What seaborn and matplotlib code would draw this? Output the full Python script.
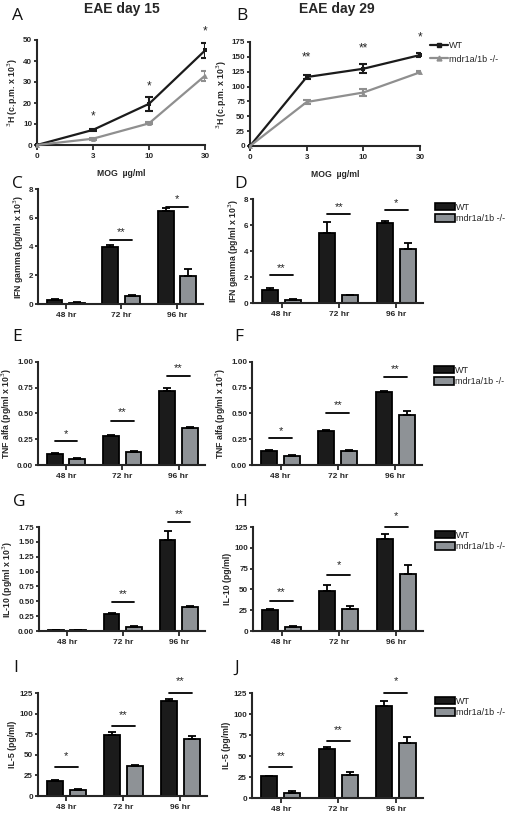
import pandas as pd
import seaborn as sns
import matplotlib.pyplot as plt
from matplotlib.lines import Line2D
from matplotlib.patches import Patch

# ---- data ----
doses = ["0", "3", "10", "30"]
times = ["48 hr", "72 hr", "96 hr"]
groups = ["WT", "mdr1a/1b -/-"]

# A: proliferation, EAE day 15
A_wt = [0, 7.2, 19.6, 45.0]
A_wt_err = [0, 0.5, 3.3, 3.8]
A_ko = [0, 3.0, 10.3, 33.0]
A_ko_err = [0, 0.4, 0.5, 2.3]
A_stars = ["", "*", "*", "*"]
A_star_y = [0, 13.5, 28, 54]

# B: proliferation, EAE day 29
B_wt = [0, 116, 130, 153]
B_wt_err = [0, 4, 8, 3]
B_ko = [0, 74, 90, 124]
B_ko_err = [0, 3, 6, 1.5]
B_stars = ["", "**", "**", "*"]
B_star_y = [0, 149, 164, 182]

# C/D: IFN gamma
C_wt = [0.30, 3.95, 6.50]
C_wt_err = [0.03, 0.15, 0.15]
C_ko = [0.10, 0.55, 1.95]
C_ko_err = [0.01, 0.05, 0.45]
C_sig = ["", "**", "*"]
C_line = [0, 4.45, 6.75]
C_star = [0, 5.0, 7.3]

D_wt = [1.03, 5.42, 6.14]
D_wt_err = [0.12, 0.82, 0.15]
D_ko = [0.26, 0.60, 4.15]
D_ko_err = [0.08, 0.03, 0.45]
D_sig = ["**", "**", "*"]
D_line = [2.14, 6.84, 7.15]
D_star = [2.7, 7.4, 7.7]

# E/F: TNF alfa
E_wt = [0.11, 0.28, 0.72]
E_wt_err = [0.005, 0.01, 0.03]
E_ko = [0.06, 0.13, 0.36]
E_ko_err = [0.005, 0.01, 0.01]
E_sig = ["*", "**", "**"]
E_line = [0.23, 0.43, 0.86]
E_star = [0.30, 0.51, 0.94]

F_wt = [0.14, 0.33, 0.71]
F_wt_err = [0.003, 0.01, 0.01]
F_ko = [0.09, 0.14, 0.49]
F_ko_err = [0.005, 0.005, 0.03]
F_sig = ["*", "**", "**"]
F_line = [0.26, 0.50, 0.85]
F_star = [0.33, 0.58, 0.93]

# G/H: IL-10
G_wt = [0.02, 0.29, 1.53]
G_wt_err = [0.005, 0.01, 0.15]
G_ko = [0.02, 0.07, 0.41]
G_ko_err = [0.005, 0.01, 0.01]
G_sig = ["", "**", "**"]
G_line = [0, 0.48, 1.83]
G_star = [0, 0.62, 1.97]

H_wt = [25.8, 48.0, 110.0]
H_wt_err = [0.5, 7.5, 6.0]
H_ko = [5.2, 27.0, 68.7]
H_ko_err = [1.0, 3.5, 10.5]
H_sig = ["**", "*", "*"]
H_line = [35.7, 67.5, 124.5]
H_star = [47, 79, 138]

# I/J: IL-5
I_wt = [18.5, 73.7, 115.0]
I_wt_err = [1.5, 3.5, 2.6]
I_ko = [7.5, 36.0, 69.5]
I_ko_err = [0.5, 2.0, 3.0]
I_sig = ["*", "**", "**"]
I_line = [34.8, 85.0, 125.5]
I_star = [48, 98, 139]

J_wt = [26.0, 58.0, 110.0]
J_wt_err = [0.3, 3.0, 6.0]
J_ko = [6.5, 27.0, 65.0]
J_ko_err = [1.5, 3.5, 8.0]
J_sig = ["**", "**", "*"]
J_line = [36.6, 67.5, 125.0]
J_star = [50, 81, 139]

# ---- style ----
sns.set_style("ticks")
plt.rcParams['font.family'] = ['Liberation Sans', 'DejaVu Sans']
plt.rcParams['axes.linewidth'] = 1.5
plt.rcParams['xtick.major.width'] = 1.3
plt.rcParams['ytick.major.width'] = 1.3
plt.rcParams['xtick.major.size'] = 3.5
plt.rcParams['ytick.major.size'] = 2.5
plt.rcParams['xtick.major.pad'] = 2
plt.rcParams['ytick.major.pad'] = 1

WT_COLOR = "#1b1b1b"
KO_COLOR = "#8d9297"
KO_LINE = "#8f8f8f"

W, H = 505, 813
fig = plt.figure(figsize=(W / 100, H / 100), dpi=100)


def px_axes(left, right, top, bottom):
    return fig.add_axes([left / W, 1 - bottom / H, (right - left) / W, (bottom - top) / H])


def style_axes(ax, ylim, yticks, fmt, ylabel):
    sns.despine(ax=ax)
    ax.set_ylim(*ylim)
    ax.set_yticks(yticks)
    ax.set_yticklabels([fmt.format(v) for v in yticks], fontsize=5.8, fontweight='bold')
    ax.set_ylabel(ylabel, fontsize=6.3, fontweight='bold', labelpad=2)


def line_panel(ax, wt, wt_err, ko, ko_err, stars, star_y, ylim, yticks, ylabel, legend=False):
    df = pd.DataFrame({
        'dose': doses * 2,
        'group': [groups[0]] * 4 + [groups[1]] * 4,
        'value': wt + ko,
        'err': wt_err + ko_err,
    })
    df['pos'] = df['dose'].map(doses.index)
    sns.lineplot(data=df, x='pos', y='value', hue='group', style='group',
                 markers={groups[0]: 's', groups[1]: '^'}, dashes=False,
                 palette={groups[0]: WT_COLOR, groups[1]: KO_LINE},
                 markersize=3.5, markeredgewidth=0, linewidth=1.6, legend=False,
                 ax=ax, clip_on=False, zorder=3)
    for g, c in zip(groups, [WT_COLOR, KO_LINE]):
        sub = df[(df['group'] == g) & (df['err'] > 0)]
        ax.errorbar(sub['pos'], sub['value'], yerr=sub['err'], fmt='none',
                    ecolor=c, elinewidth=1.5, capsize=2.8, capthick=1.5, zorder=3)
    for i, s in enumerate(stars):
        if s:
            ax.text(i, star_y[i], s, ha='center', va='center', fontsize=8.5, clip_on=False)
    ax.set_xlim(0, 3)
    ax.set_xticks(range(len(doses)))
    ax.set_xticklabels(doses, fontsize=5.8, fontweight='bold')
    ax.set_xlabel("MOG  µg/ml", fontsize=6.2, fontweight='bold', labelpad=7)
    style_axes(ax, ylim, yticks, "{:g}", ylabel)
    if legend:
        handles = [Line2D([], [], color=WT_COLOR, marker='s', markersize=3, lw=1.6),
                   Line2D([], [], color=KO_LINE, marker='^', markersize=3.5, lw=1.6)]
        ax.legend(handles, groups, loc='upper left', bbox_to_anchor=(1.04, 1.04),
                  frameon=False, fontsize=6.5, handlelength=1.9, handletextpad=0.2,
                  borderaxespad=0, labelspacing=0.45)


def bar_panel(ax, wt, wt_err, ko, ko_err, sig, sig_line, sig_star, ylim, yticks, fmt,
              ylabel, legend=False):
    df = pd.DataFrame({
        'time': times * 2,
        'group': [groups[0]] * 3 + [groups[1]] * 3,
        'value': wt + ko,
        'err': wt_err + ko_err,
    })
    sns.barplot(data=df, x='time', y='value', hue='group', order=times, hue_order=groups,
                palette={groups[0]: WT_COLOR, groups[1]: KO_COLOR}, errorbar=None,
                width=0.8, gap=0.3, edgecolor='black', linewidth=1.3, legend=False, ax=ax)
    centers = []
    for cont, g in zip(ax.containers, groups):
        xs = [b.get_x() + b.get_width() / 2 for b in cont]
        centers.append(xs)
        sub = df[df['group'] == g]
        ax.errorbar(xs, sub['value'], yerr=[[0] * len(xs), sub['err']], fmt='none',
                    ecolor='black', elinewidth=1.3, capsize=3, capthick=1.3, zorder=1)
    for i, s in enumerate(sig):
        if s:
            ax.plot([centers[0][i], centers[1][i]], [sig_line[i]] * 2, color='black',
                    lw=1.3, clip_on=False)
            ax.text((centers[0][i] + centers[1][i]) / 2, sig_star[i], s, ha='center',
                    va='center', fontsize=8, color='#222222', clip_on=False)
    ax.set_xlim(-0.5, 2.47)
    ax.set_xlabel("")
    ax.tick_params(axis='x', labelsize=6)
    for t in ax.get_xticklabels():
        t.set_fontweight('bold')
    style_axes(ax, ylim, yticks, fmt, ylabel)
    if legend:
        handles = [Patch(facecolor=WT_COLOR, edgecolor='black', lw=1.2),
                   Patch(facecolor=KO_COLOR, edgecolor='black', lw=1.2)]
        ax.legend(handles, groups, loc='upper left', bbox_to_anchor=(1.05, 1.0),
                  frameon=False, fontsize=6.5, handlelength=2.2, handleheight=0.9,
                  handletextpad=0.1, borderaxespad=0, labelspacing=0.3)


h3 = "$^3$"
axA = px_axes(37, 205, 40, 145)
line_panel(axA, A_wt, A_wt_err, A_ko, A_ko_err, A_stars, A_star_y, (0, 50),
           [0, 10, 20, 30, 40, 50], h3 + "H (c.p.m. x 10" + h3 + ")")
axB = px_axes(250, 420, 42, 146)
line_panel(axB, B_wt, B_wt_err, B_ko, B_ko_err, B_stars, B_star_y, (0, 175),
           [0, 25, 50, 75, 100, 125, 150, 175], h3 + "H (c.p.m. x 10" + h3 + ")", legend=True)

ifn = "IFN gamma (pg/ml x 10" + h3 + ")"
bar_panel(px_axes(38, 203, 189, 304), C_wt, C_wt_err, C_ko, C_ko_err, C_sig, C_line, C_star,
          (0, 8), [0, 2, 4, 6, 8], "{:g}", ifn)
bar_panel(px_axes(253, 423, 199, 303), D_wt, D_wt_err, D_ko, D_ko_err, D_sig, D_line, D_star,
          (0, 8), [0, 2, 4, 6, 8], "{:g}", ifn, legend=True)

tnf = "TNF alfa (pg/ml x 10" + h3 + ")"
bar_panel(px_axes(38, 205, 362, 465), E_wt, E_wt_err, E_ko, E_ko_err, E_sig, E_line, E_star,
          (0, 1), [0, 0.25, 0.5, 0.75, 1.0], "{:.2f}", tnf)
bar_panel(px_axes(252, 422, 362, 465), F_wt, F_wt_err, F_ko, F_ko_err, F_sig, F_line, F_star,
          (0, 1), [0, 0.25, 0.5, 0.75, 1.0], "{:.2f}", tnf, legend=True)

bar_panel(px_axes(39, 205, 527, 631), G_wt, G_wt_err, G_ko, G_ko_err, G_sig, G_line, G_star,
          (0, 1.75), [0, 0.25, 0.5, 0.75, 1.0, 1.25, 1.5, 1.75], "{:.2f}",
          "IL-10 (pg/ml x 10" + h3 + ")")
bar_panel(px_axes(253, 423, 527, 631), H_wt, H_wt_err, H_ko, H_ko_err, H_sig, H_line, H_star,
          (0, 125), [0, 25, 50, 75, 100, 125], "{:g}", "IL-10 (pg/ml)", legend=True)

bar_panel(px_axes(38, 207, 693, 796), I_wt, I_wt_err, I_ko, I_ko_err, I_sig, I_line, I_star,
          (0, 125), [0, 25, 50, 75, 100, 125], "{:g}", "IL-5 (pg/ml)")
bar_panel(px_axes(252, 423, 693, 798), J_wt, J_wt_err, J_ko, J_ko_err, J_sig, J_line, J_star,
          (0, 125), [0, 25, 50, 75, 100, 125], "{:g}", "IL-5 (pg/ml)", legend=True)

# titles and panel letters
fig.text(122 / W, 1 - 9 / H, "EAE day 15", ha='center', va='center', fontsize=10, fontweight='bold')
fig.text(337 / W, 1 - 9 / H, "EAE day 29", ha='center', va='center', fontsize=10, fontweight='bold')
letters = [("A", 12, 16), ("B", 236, 16), ("C", 12, 184), ("D", 234, 184),
           ("E", 12, 337), ("F", 234, 337), ("G", 13, 502), ("H", 234, 502),
           ("I", 13, 668), ("J", 234, 668)]
for lab, x, y in letters:
    fig.text(x / W, 1 - y / H, lab, ha='left', va='center', fontsize=12.5,
             fontfamily='Open Sans', fontweight='normal', color='#111111')

plt.savefig("out.png", dpi=100)
